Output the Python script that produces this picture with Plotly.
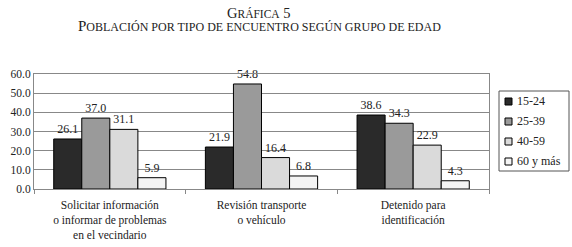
import plotly.graph_objects as go

categories = ["Solicitar información<br>o informar de problemas<br>en el vecindario",
              "Revisión transporte<br>o vehículo",
              "Detenido para<br>identificación"]
series_names = ["15-24", "25-39", "40-59", "60 y más"]
v_15_24 = [26.1, 21.9, 38.6]
v_25_39 = [37.0, 54.8, 34.3]
v_40_59 = [31.1, 16.4, 22.9]
v_60 = [5.9, 6.8, 4.3]
y_ticks = [0, 10, 20, 30, 40, 50, 60]

colors = ["#2a2a2a", "#9a9a9a", "#dadada", "#f4f4f4"]
FONT = "Liberation Serif"

W, H = 572, 247
L, R, T, B = 34, 83, 74, 58
pw, ph = W - L - R, H - T - B

fig = go.Figure()
for name, vals, col in zip(series_names, [v_15_24, v_25_39, v_40_59, v_60], colors):
    fig.add_trace(go.Bar(
        x=categories, y=vals, name=name,
        marker=dict(color=col, line=dict(color="#000000", width=1)),
        text=[f"{v:.1f}" for v in vals], textposition="outside",
        textfont=dict(family=FONT, size=12, color="#222"),
        cliponaxis=False, showlegend=False,
    ))

def px_x(x):  # window px -> paper
    return (x - L) / pw

def px_y(y):
    return (H - B - y) / ph

shapes = []
annotations = [
    dict(text="G<span style='font-size:11.5px'>RÁFICA</span> 5",
         x=px_x(259), y=px_y(13), xref="paper", yref="paper",
         yanchor="middle", showarrow=False,
         font=dict(family=FONT, size=14.5, color="#222")),
    dict(text="P<span style='font-size:12px'>OBLACIÓN POR TIPO DE ENCUENTRO SEGÚN GRUPO DE EDAD</span>",
         x=px_x(259), y=px_y(26.5), xref="paper", yref="paper",
         yanchor="middle", showarrow=False,
         font=dict(family=FONT, size=15, color="#222")),
]
# legend box
shapes.append(dict(type="rect", xref="paper", yref="paper",
                   x0=px_x(499), x1=px_x(569), y0=px_y(171), y1=px_y(91),
                   line=dict(color="#555", width=1), fillcolor="white", layer="above"))
for i, (name, col) in enumerate(zip(series_names, colors)):
    cy = 101 + 20 * i
    shapes.append(dict(type="rect", xref="paper", yref="paper",
                       x0=px_x(505), x1=px_x(512), y0=px_y(cy + 4), y1=px_y(cy - 3),
                       line=dict(color="#000", width=1), fillcolor=col, layer="above"))
    annotations.append(dict(text=name, x=px_x(515), y=px_y(cy), xref="paper", yref="paper",
                            xanchor="left", yanchor="middle", showarrow=False,
                            font=dict(family=FONT, size=12, color="#222")))

fig.update_layout(
    width=W, height=H,
    margin=dict(l=L, r=R, t=T, b=B),
    paper_bgcolor="white", plot_bgcolor="white",
    barmode="group", bargap=0.26, bargroupgap=0,
    font=dict(family=FONT, size=11, color="#222"),
    showlegend=False, hovermode=False,
    xaxis=dict(showline=True, linecolor="#888", mirror=True, ticks="outside",
               tickson="boundaries", ticklen=4, tickcolor="#888", automargin=False,
               ticklabelstandoff=5,
               tickfont=dict(family=FONT, size=11.5, color="#222")),
    yaxis=dict(range=[0, 60], tickvals=y_ticks, automargin=False,
               ticktext=[f"{v:.1f}" for v in y_ticks],
               showgrid=True, gridcolor="#888", gridwidth=1,
               showline=True, linecolor="#888", mirror=True,
               ticks="", tickfont=dict(family=FONT, size=11.5, color="#222")),
    shapes=shapes,
    annotations=annotations,
)

fig.write_html("out.html", config={"displayModeBar": False},
               post_script="document.body.style.margin='0';")
